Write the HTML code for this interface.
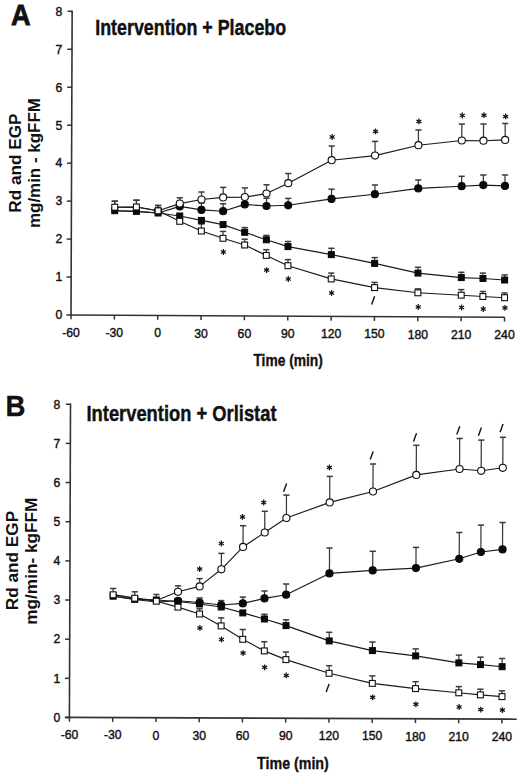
<!DOCTYPE html>
<html><head><meta charset="utf-8"><title>Rd and EGP</title>
<style>
html,body{margin:0;padding:0;background:#fff;}
body{width:520px;height:776px;overflow:hidden;}
svg{display:block;}
text{font-family:"Liberation Sans",sans-serif;fill:#111;}
.tk{font-size:12.2px;stroke:#111;stroke-width:0.4px;}
.big{font-size:29px;font-weight:bold;stroke:#111;stroke-width:0.8px;}
.ttl{font-size:22.7px;font-weight:bold;stroke:#111;stroke-width:0.45px;}
.tm{font-size:17.2px;font-weight:bold;stroke:#111;stroke-width:0.35px;}
.yl{font-size:17.2px;font-weight:bold;}
</style></head>
<body>
<svg width="520" height="776" viewBox="0 0 520 776">
<rect width="520" height="776" fill="#fff"/>
<line x1="72.15" y1="10.6" x2="71" y2="316" stroke="#333" stroke-width="1.6"/>
<line x1="70" y1="315" x2="504.6" y2="317.3" stroke="#333" stroke-width="1.6"/>
<line x1="66.4" y1="315" x2="71" y2="315" stroke="#333" stroke-width="1.5"/>
<text x="62.2" y="319.3" class="tk" text-anchor="end">0</text>
<line x1="66.54" y1="277.04" x2="71.14" y2="277.04" stroke="#333" stroke-width="1.5"/>
<text x="62.2" y="281.34" class="tk" text-anchor="end">1</text>
<line x1="66.68" y1="239.08" x2="71.28" y2="239.08" stroke="#333" stroke-width="1.5"/>
<text x="62.2" y="243.38" class="tk" text-anchor="end">2</text>
<line x1="66.82" y1="201.12" x2="71.42" y2="201.12" stroke="#333" stroke-width="1.5"/>
<text x="62.2" y="205.42" class="tk" text-anchor="end">3</text>
<line x1="66.96" y1="163.16" x2="71.56" y2="163.16" stroke="#333" stroke-width="1.5"/>
<text x="62.2" y="167.46" class="tk" text-anchor="end">4</text>
<line x1="67.1" y1="125.2" x2="71.7" y2="125.2" stroke="#333" stroke-width="1.5"/>
<text x="62.2" y="129.5" class="tk" text-anchor="end">5</text>
<line x1="67.24" y1="87.24" x2="71.84" y2="87.24" stroke="#333" stroke-width="1.5"/>
<text x="62.2" y="91.54" class="tk" text-anchor="end">6</text>
<line x1="67.38" y1="49.28" x2="71.98" y2="49.28" stroke="#333" stroke-width="1.5"/>
<text x="62.2" y="53.58" class="tk" text-anchor="end">7</text>
<line x1="67.52" y1="11.32" x2="72.12" y2="11.32" stroke="#333" stroke-width="1.5"/>
<text x="62.2" y="15.62" class="tk" text-anchor="end">8</text>
<line x1="71" y1="315.01" x2="71" y2="319.31" stroke="#333" stroke-width="1.5"/>
<text x="71" y="337" class="tk" text-anchor="middle">-60</text>
<line x1="114.35" y1="315.23" x2="114.35" y2="319.53" stroke="#333" stroke-width="1.5"/>
<text x="114.35" y="337.19" class="tk" text-anchor="middle">-30</text>
<line x1="157.7" y1="315.46" x2="157.7" y2="319.76" stroke="#333" stroke-width="1.5"/>
<text x="157.7" y="337.38" class="tk" text-anchor="middle">0</text>
<line x1="201.05" y1="315.69" x2="201.05" y2="319.99" stroke="#333" stroke-width="1.5"/>
<text x="201.05" y="337.57" class="tk" text-anchor="middle">30</text>
<line x1="244.4" y1="315.92" x2="244.4" y2="320.22" stroke="#333" stroke-width="1.5"/>
<text x="244.4" y="337.76" class="tk" text-anchor="middle">60</text>
<line x1="287.75" y1="316.15" x2="287.75" y2="320.45" stroke="#333" stroke-width="1.5"/>
<text x="287.75" y="337.95" class="tk" text-anchor="middle">90</text>
<line x1="331.1" y1="316.38" x2="331.1" y2="320.68" stroke="#333" stroke-width="1.5"/>
<text x="331.1" y="338.14" class="tk" text-anchor="middle">120</text>
<line x1="374.45" y1="316.61" x2="374.45" y2="320.91" stroke="#333" stroke-width="1.5"/>
<text x="374.45" y="338.33" class="tk" text-anchor="middle">150</text>
<line x1="417.8" y1="316.84" x2="417.8" y2="321.14" stroke="#333" stroke-width="1.5"/>
<text x="417.8" y="338.52" class="tk" text-anchor="middle">180</text>
<line x1="461.15" y1="317.07" x2="461.15" y2="321.37" stroke="#333" stroke-width="1.5"/>
<text x="461.15" y="338.71" class="tk" text-anchor="middle">210</text>
<line x1="504.5" y1="317.3" x2="504.5" y2="321.6" stroke="#333" stroke-width="1.5"/>
<text x="504.5" y="338.9" class="tk" text-anchor="middle">240</text>
<line x1="114.75" y1="207.2" x2="114.77" y2="201.2" stroke="#3a3a3a" stroke-width="1.25"/>
<line x1="111.67" y1="201.2" x2="117.87" y2="201.2" stroke="#3a3a3a" stroke-width="1.5"/>
<line x1="136.42" y1="207" x2="136.45" y2="200.2" stroke="#3a3a3a" stroke-width="1.25"/>
<line x1="133.35" y1="200.2" x2="139.55" y2="200.2" stroke="#3a3a3a" stroke-width="1.5"/>
<line x1="158.09" y1="210.8" x2="158.11" y2="205.5" stroke="#3a3a3a" stroke-width="1.25"/>
<line x1="155.01" y1="205.5" x2="161.21" y2="205.5" stroke="#3a3a3a" stroke-width="1.5"/>
<line x1="179.79" y1="203.6" x2="179.81" y2="197.8" stroke="#3a3a3a" stroke-width="1.25"/>
<line x1="176.71" y1="197.8" x2="182.91" y2="197.8" stroke="#3a3a3a" stroke-width="1.5"/>
<line x1="201.48" y1="199.5" x2="201.51" y2="192" stroke="#3a3a3a" stroke-width="1.25"/>
<line x1="198.41" y1="192" x2="204.61" y2="192" stroke="#3a3a3a" stroke-width="1.5"/>
<line x1="223.16" y1="197.4" x2="223.2" y2="187.4" stroke="#3a3a3a" stroke-width="1.25"/>
<line x1="220.1" y1="187.4" x2="226.3" y2="187.4" stroke="#3a3a3a" stroke-width="1.5"/>
<line x1="244.84" y1="197.1" x2="244.87" y2="187.9" stroke="#3a3a3a" stroke-width="1.25"/>
<line x1="241.77" y1="187.9" x2="247.97" y2="187.9" stroke="#3a3a3a" stroke-width="1.5"/>
<line x1="266.52" y1="193.6" x2="266.56" y2="184.8" stroke="#3a3a3a" stroke-width="1.25"/>
<line x1="263.46" y1="184.8" x2="269.66" y2="184.8" stroke="#3a3a3a" stroke-width="1.5"/>
<line x1="288.24" y1="183.2" x2="288.27" y2="173.5" stroke="#3a3a3a" stroke-width="1.25"/>
<line x1="285.17" y1="173.5" x2="291.37" y2="173.5" stroke="#3a3a3a" stroke-width="1.5"/>
<line x1="331.67" y1="160.2" x2="331.73" y2="146" stroke="#3a3a3a" stroke-width="1.25"/>
<line x1="328.63" y1="146" x2="334.83" y2="146" stroke="#3a3a3a" stroke-width="1.5"/>
<line x1="375.04" y1="155.6" x2="375.09" y2="141.4" stroke="#3a3a3a" stroke-width="1.25"/>
<line x1="371.99" y1="141.4" x2="378.19" y2="141.4" stroke="#3a3a3a" stroke-width="1.5"/>
<line x1="418.43" y1="145.2" x2="418.48" y2="130" stroke="#3a3a3a" stroke-width="1.25"/>
<line x1="415.38" y1="130" x2="421.58" y2="130" stroke="#3a3a3a" stroke-width="1.5"/>
<line x1="461.8" y1="140.5" x2="461.86" y2="124.1" stroke="#3a3a3a" stroke-width="1.25"/>
<line x1="458.76" y1="124.1" x2="464.96" y2="124.1" stroke="#3a3a3a" stroke-width="1.5"/>
<line x1="483.47" y1="140.7" x2="483.53" y2="124" stroke="#3a3a3a" stroke-width="1.25"/>
<line x1="480.43" y1="124" x2="486.63" y2="124" stroke="#3a3a3a" stroke-width="1.5"/>
<line x1="505.15" y1="139.9" x2="505.21" y2="123.5" stroke="#3a3a3a" stroke-width="1.25"/>
<line x1="502.11" y1="123.5" x2="508.31" y2="123.5" stroke="#3a3a3a" stroke-width="1.5"/>
<line x1="201.44" y1="209.9" x2="201.46" y2="203" stroke="#3a3a3a" stroke-width="1.25"/>
<line x1="198.36" y1="203" x2="204.56" y2="203" stroke="#3a3a3a" stroke-width="1.5"/>
<line x1="223.11" y1="211.2" x2="223.14" y2="203.8" stroke="#3a3a3a" stroke-width="1.25"/>
<line x1="220.04" y1="203.8" x2="226.24" y2="203.8" stroke="#3a3a3a" stroke-width="1.5"/>
<line x1="266.48" y1="206" x2="266.51" y2="198.2" stroke="#3a3a3a" stroke-width="1.25"/>
<line x1="263.41" y1="198.2" x2="269.61" y2="198.2" stroke="#3a3a3a" stroke-width="1.5"/>
<line x1="288.16" y1="205.3" x2="288.18" y2="198.4" stroke="#3a3a3a" stroke-width="1.25"/>
<line x1="285.08" y1="198.4" x2="291.28" y2="198.4" stroke="#3a3a3a" stroke-width="1.5"/>
<line x1="331.53" y1="198.9" x2="331.57" y2="189.2" stroke="#3a3a3a" stroke-width="1.25"/>
<line x1="328.47" y1="189.2" x2="334.67" y2="189.2" stroke="#3a3a3a" stroke-width="1.5"/>
<line x1="374.9" y1="194.2" x2="374.93" y2="185" stroke="#3a3a3a" stroke-width="1.25"/>
<line x1="371.83" y1="185" x2="378.03" y2="185" stroke="#3a3a3a" stroke-width="1.5"/>
<line x1="418.27" y1="188.4" x2="418.3" y2="180" stroke="#3a3a3a" stroke-width="1.25"/>
<line x1="415.2" y1="180" x2="421.4" y2="180" stroke="#3a3a3a" stroke-width="1.5"/>
<line x1="461.63" y1="186.2" x2="461.66" y2="176.3" stroke="#3a3a3a" stroke-width="1.25"/>
<line x1="458.56" y1="176.3" x2="464.76" y2="176.3" stroke="#3a3a3a" stroke-width="1.5"/>
<line x1="483.31" y1="185.1" x2="483.34" y2="175" stroke="#3a3a3a" stroke-width="1.25"/>
<line x1="480.24" y1="175" x2="486.44" y2="175" stroke="#3a3a3a" stroke-width="1.5"/>
<line x1="504.98" y1="185.9" x2="505.02" y2="175" stroke="#3a3a3a" stroke-width="1.25"/>
<line x1="501.92" y1="175" x2="508.12" y2="175" stroke="#3a3a3a" stroke-width="1.5"/>
<line x1="244.71" y1="232.3" x2="244.72" y2="227.6" stroke="#3a3a3a" stroke-width="1.25"/>
<line x1="241.62" y1="227.6" x2="247.82" y2="227.6" stroke="#3a3a3a" stroke-width="1.5"/>
<line x1="266.35" y1="239.8" x2="266.37" y2="235.4" stroke="#3a3a3a" stroke-width="1.25"/>
<line x1="263.27" y1="235.4" x2="269.47" y2="235.4" stroke="#3a3a3a" stroke-width="1.5"/>
<line x1="288" y1="246.6" x2="288.02" y2="241.5" stroke="#3a3a3a" stroke-width="1.25"/>
<line x1="284.92" y1="241.5" x2="291.12" y2="241.5" stroke="#3a3a3a" stroke-width="1.5"/>
<line x1="331.32" y1="254.6" x2="331.35" y2="248.3" stroke="#3a3a3a" stroke-width="1.25"/>
<line x1="328.25" y1="248.3" x2="334.45" y2="248.3" stroke="#3a3a3a" stroke-width="1.5"/>
<line x1="374.64" y1="263.4" x2="374.66" y2="257.6" stroke="#3a3a3a" stroke-width="1.25"/>
<line x1="371.56" y1="257.6" x2="377.76" y2="257.6" stroke="#3a3a3a" stroke-width="1.5"/>
<line x1="417.96" y1="273.1" x2="417.98" y2="267.3" stroke="#3a3a3a" stroke-width="1.25"/>
<line x1="414.88" y1="267.3" x2="421.08" y2="267.3" stroke="#3a3a3a" stroke-width="1.5"/>
<line x1="461.29" y1="277.6" x2="461.31" y2="272.3" stroke="#3a3a3a" stroke-width="1.25"/>
<line x1="458.21" y1="272.3" x2="464.41" y2="272.3" stroke="#3a3a3a" stroke-width="1.5"/>
<line x1="482.96" y1="278.5" x2="482.98" y2="273.1" stroke="#3a3a3a" stroke-width="1.25"/>
<line x1="479.88" y1="273.1" x2="486.08" y2="273.1" stroke="#3a3a3a" stroke-width="1.5"/>
<line x1="504.63" y1="280" x2="504.65" y2="274.9" stroke="#3a3a3a" stroke-width="1.25"/>
<line x1="501.55" y1="274.9" x2="507.75" y2="274.9" stroke="#3a3a3a" stroke-width="1.5"/>
<line x1="114.75" y1="207.2" x2="114.77" y2="201.2" stroke="#3a3a3a" stroke-width="1.25"/>
<line x1="111.67" y1="201.2" x2="117.87" y2="201.2" stroke="#3a3a3a" stroke-width="1.5"/>
<line x1="136.42" y1="207" x2="136.45" y2="200.2" stroke="#3a3a3a" stroke-width="1.25"/>
<line x1="133.35" y1="200.2" x2="139.55" y2="200.2" stroke="#3a3a3a" stroke-width="1.5"/>
<line x1="158.09" y1="210.8" x2="158.11" y2="205.5" stroke="#3a3a3a" stroke-width="1.25"/>
<line x1="155.01" y1="205.5" x2="161.21" y2="205.5" stroke="#3a3a3a" stroke-width="1.5"/>
<line x1="201.36" y1="231" x2="201.39" y2="224" stroke="#3a3a3a" stroke-width="1.25"/>
<line x1="198.29" y1="224" x2="204.49" y2="224" stroke="#3a3a3a" stroke-width="1.5"/>
<line x1="223.01" y1="238.3" x2="223.03" y2="231.4" stroke="#3a3a3a" stroke-width="1.25"/>
<line x1="219.93" y1="231.4" x2="226.13" y2="231.4" stroke="#3a3a3a" stroke-width="1.5"/>
<line x1="244.66" y1="245" x2="244.68" y2="239.2" stroke="#3a3a3a" stroke-width="1.25"/>
<line x1="241.58" y1="239.2" x2="247.78" y2="239.2" stroke="#3a3a3a" stroke-width="1.5"/>
<line x1="266.3" y1="255.4" x2="266.32" y2="249.7" stroke="#3a3a3a" stroke-width="1.25"/>
<line x1="263.22" y1="249.7" x2="269.42" y2="249.7" stroke="#3a3a3a" stroke-width="1.5"/>
<line x1="287.93" y1="265.7" x2="287.95" y2="259.6" stroke="#3a3a3a" stroke-width="1.25"/>
<line x1="284.85" y1="259.6" x2="291.05" y2="259.6" stroke="#3a3a3a" stroke-width="1.5"/>
<line x1="331.23" y1="278.9" x2="331.26" y2="273.1" stroke="#3a3a3a" stroke-width="1.25"/>
<line x1="328.16" y1="273.1" x2="334.36" y2="273.1" stroke="#3a3a3a" stroke-width="1.5"/>
<line x1="374.55" y1="287.6" x2="374.57" y2="282.4" stroke="#3a3a3a" stroke-width="1.25"/>
<line x1="371.47" y1="282.4" x2="377.67" y2="282.4" stroke="#3a3a3a" stroke-width="1.5"/>
<line x1="417.88" y1="292.8" x2="417.9" y2="288.9" stroke="#3a3a3a" stroke-width="1.25"/>
<line x1="414.8" y1="288.9" x2="421" y2="288.9" stroke="#3a3a3a" stroke-width="1.5"/>
<line x1="461.22" y1="295.2" x2="461.24" y2="289.6" stroke="#3a3a3a" stroke-width="1.25"/>
<line x1="458.14" y1="289.6" x2="464.34" y2="289.6" stroke="#3a3a3a" stroke-width="1.5"/>
<line x1="482.89" y1="296.5" x2="482.91" y2="291.5" stroke="#3a3a3a" stroke-width="1.25"/>
<line x1="479.81" y1="291.5" x2="486.01" y2="291.5" stroke="#3a3a3a" stroke-width="1.5"/>
<line x1="504.56" y1="297.7" x2="504.58" y2="293" stroke="#3a3a3a" stroke-width="1.25"/>
<line x1="501.48" y1="293" x2="507.68" y2="293" stroke="#3a3a3a" stroke-width="1.5"/>
<path d="M114.74,210.7 L136.41,211.4 L158.08,213 L179.74,216 L201.4,220.4 L223.06,224.6 L244.71,232.3 L266.35,239.8 L288,246.6 L331.32,254.6 L374.64,263.4 L417.96,273.1 L461.29,277.6 L482.96,278.5 L504.63,280" fill="none" stroke="#1a1a1a" stroke-width="1.15" stroke-linejoin="round"/>
<path d="M114.75,207.2 L136.42,207 L158.09,210.8 L179.72,221.3 L201.36,231 L223.01,238.3 L244.66,245 L266.3,255.4 L287.93,265.7 L331.23,278.9 L374.55,287.6 L417.88,292.8 L461.22,295.2 L482.89,296.5 L504.56,297.7" fill="none" stroke="#1a1a1a" stroke-width="1.15" stroke-linejoin="round"/>
<path d="M114.74,210.7 L136.41,211.4 L158.08,213 L179.78,206.4 L201.44,209.9 L223.11,211.2 L244.81,204.4 L266.48,206 L288.16,205.3 L331.53,198.9 L374.9,194.2 L418.27,188.4 L461.63,186.2 L483.31,185.1 L504.98,185.9" fill="none" stroke="#1a1a1a" stroke-width="1.15" stroke-linejoin="round"/>
<path d="M114.75,207.2 L136.42,207 L158.09,210.8 L179.79,203.6 L201.48,199.5 L223.16,197.4 L244.84,197.1 L266.52,193.6 L288.24,183.2 L331.67,160.2 L375.04,155.6 L418.43,145.2 L461.8,140.5 L483.47,140.7 L505.15,139.9" fill="none" stroke="#1a1a1a" stroke-width="1.15" stroke-linejoin="round"/>
<circle cx="179.78" cy="206.4" r="3.55" fill="#0a0a0a" stroke="#0a0a0a" stroke-width="1.1"/>
<circle cx="201.44" cy="209.9" r="3.55" fill="#0a0a0a" stroke="#0a0a0a" stroke-width="1.1"/>
<circle cx="223.11" cy="211.2" r="3.55" fill="#0a0a0a" stroke="#0a0a0a" stroke-width="1.1"/>
<circle cx="244.81" cy="204.4" r="3.55" fill="#0a0a0a" stroke="#0a0a0a" stroke-width="1.1"/>
<circle cx="266.48" cy="206" r="3.55" fill="#0a0a0a" stroke="#0a0a0a" stroke-width="1.1"/>
<circle cx="288.16" cy="205.3" r="3.55" fill="#0a0a0a" stroke="#0a0a0a" stroke-width="1.1"/>
<circle cx="331.53" cy="198.9" r="3.55" fill="#0a0a0a" stroke="#0a0a0a" stroke-width="1.1"/>
<circle cx="374.9" cy="194.2" r="3.55" fill="#0a0a0a" stroke="#0a0a0a" stroke-width="1.1"/>
<circle cx="418.27" cy="188.4" r="3.55" fill="#0a0a0a" stroke="#0a0a0a" stroke-width="1.1"/>
<circle cx="461.63" cy="186.2" r="3.55" fill="#0a0a0a" stroke="#0a0a0a" stroke-width="1.1"/>
<circle cx="483.31" cy="185.1" r="3.55" fill="#0a0a0a" stroke="#0a0a0a" stroke-width="1.1"/>
<circle cx="504.98" cy="185.9" r="3.55" fill="#0a0a0a" stroke="#0a0a0a" stroke-width="1.1"/>
<circle cx="158.09" cy="210.8" r="3.55" fill="#fff" stroke="#111" stroke-width="1.1"/>
<circle cx="179.79" cy="203.6" r="3.55" fill="#fff" stroke="#111" stroke-width="1.1"/>
<circle cx="201.48" cy="199.5" r="3.55" fill="#fff" stroke="#111" stroke-width="1.1"/>
<circle cx="223.16" cy="197.4" r="3.55" fill="#fff" stroke="#111" stroke-width="1.1"/>
<circle cx="244.84" cy="197.1" r="3.55" fill="#fff" stroke="#111" stroke-width="1.1"/>
<circle cx="266.52" cy="193.6" r="3.55" fill="#fff" stroke="#111" stroke-width="1.1"/>
<circle cx="288.24" cy="183.2" r="3.55" fill="#fff" stroke="#111" stroke-width="1.1"/>
<circle cx="331.67" cy="160.2" r="3.55" fill="#fff" stroke="#111" stroke-width="1.1"/>
<circle cx="375.04" cy="155.6" r="3.55" fill="#fff" stroke="#111" stroke-width="1.1"/>
<circle cx="418.43" cy="145.2" r="3.55" fill="#fff" stroke="#111" stroke-width="1.1"/>
<circle cx="461.8" cy="140.5" r="3.55" fill="#fff" stroke="#111" stroke-width="1.1"/>
<circle cx="483.47" cy="140.7" r="3.55" fill="#fff" stroke="#111" stroke-width="1.1"/>
<circle cx="505.15" cy="139.9" r="3.55" fill="#fff" stroke="#111" stroke-width="1.1"/>
<rect x="111.79" y="207.75" width="5.9" height="5.9" fill="#0a0a0a" stroke="#0a0a0a" stroke-width="1.1"/>
<rect x="133.46" y="208.45" width="5.9" height="5.9" fill="#0a0a0a" stroke="#0a0a0a" stroke-width="1.1"/>
<rect x="155.13" y="210.05" width="5.9" height="5.9" fill="#0a0a0a" stroke="#0a0a0a" stroke-width="1.1"/>
<rect x="176.79" y="213.05" width="5.9" height="5.9" fill="#0a0a0a" stroke="#0a0a0a" stroke-width="1.1"/>
<rect x="198.45" y="217.45" width="5.9" height="5.9" fill="#0a0a0a" stroke="#0a0a0a" stroke-width="1.1"/>
<rect x="220.11" y="221.65" width="5.9" height="5.9" fill="#0a0a0a" stroke="#0a0a0a" stroke-width="1.1"/>
<rect x="241.76" y="229.35" width="5.9" height="5.9" fill="#0a0a0a" stroke="#0a0a0a" stroke-width="1.1"/>
<rect x="263.4" y="236.85" width="5.9" height="5.9" fill="#0a0a0a" stroke="#0a0a0a" stroke-width="1.1"/>
<rect x="285.05" y="243.65" width="5.9" height="5.9" fill="#0a0a0a" stroke="#0a0a0a" stroke-width="1.1"/>
<rect x="328.37" y="251.65" width="5.9" height="5.9" fill="#0a0a0a" stroke="#0a0a0a" stroke-width="1.1"/>
<rect x="371.69" y="260.45" width="5.9" height="5.9" fill="#0a0a0a" stroke="#0a0a0a" stroke-width="1.1"/>
<rect x="415.01" y="270.15" width="5.9" height="5.9" fill="#0a0a0a" stroke="#0a0a0a" stroke-width="1.1"/>
<rect x="458.34" y="274.65" width="5.9" height="5.9" fill="#0a0a0a" stroke="#0a0a0a" stroke-width="1.1"/>
<rect x="480.01" y="275.55" width="5.9" height="5.9" fill="#0a0a0a" stroke="#0a0a0a" stroke-width="1.1"/>
<rect x="501.68" y="277.05" width="5.9" height="5.9" fill="#0a0a0a" stroke="#0a0a0a" stroke-width="1.1"/>
<rect x="111.8" y="204.25" width="5.9" height="5.9" fill="#fff" stroke="#111" stroke-width="1.1"/>
<rect x="133.47" y="204.05" width="5.9" height="5.9" fill="#fff" stroke="#111" stroke-width="1.1"/>
<rect x="155.14" y="207.85" width="5.9" height="5.9" fill="#fff" stroke="#111" stroke-width="1.1"/>
<rect x="176.77" y="218.35" width="5.9" height="5.9" fill="#fff" stroke="#111" stroke-width="1.1"/>
<rect x="198.41" y="228.05" width="5.9" height="5.9" fill="#fff" stroke="#111" stroke-width="1.1"/>
<rect x="220.06" y="235.35" width="5.9" height="5.9" fill="#fff" stroke="#111" stroke-width="1.1"/>
<rect x="241.71" y="242.05" width="5.9" height="5.9" fill="#fff" stroke="#111" stroke-width="1.1"/>
<rect x="263.35" y="252.45" width="5.9" height="5.9" fill="#fff" stroke="#111" stroke-width="1.1"/>
<rect x="284.98" y="262.75" width="5.9" height="5.9" fill="#fff" stroke="#111" stroke-width="1.1"/>
<rect x="328.28" y="275.95" width="5.9" height="5.9" fill="#fff" stroke="#111" stroke-width="1.1"/>
<rect x="371.6" y="284.65" width="5.9" height="5.9" fill="#fff" stroke="#111" stroke-width="1.1"/>
<rect x="414.93" y="289.85" width="5.9" height="5.9" fill="#fff" stroke="#111" stroke-width="1.1"/>
<rect x="458.27" y="292.25" width="5.9" height="5.9" fill="#fff" stroke="#111" stroke-width="1.1"/>
<rect x="479.94" y="293.55" width="5.9" height="5.9" fill="#fff" stroke="#111" stroke-width="1.1"/>
<rect x="501.61" y="294.75" width="5.9" height="5.9" fill="#fff" stroke="#111" stroke-width="1.1"/>
<line x1="332.16" y1="134.1" x2="332.16" y2="139.9" stroke="#111" stroke-width="1.25"/>
<line x1="329.65" y1="135.55" x2="334.67" y2="138.45" stroke="#111" stroke-width="1.25"/>
<line x1="329.65" y1="138.45" x2="334.67" y2="135.55" stroke="#111" stroke-width="1.25"/>
<line x1="375.53" y1="128.5" x2="375.53" y2="134.3" stroke="#111" stroke-width="1.25"/>
<line x1="373.02" y1="129.95" x2="378.04" y2="132.85" stroke="#111" stroke-width="1.25"/>
<line x1="373.02" y1="132.85" x2="378.04" y2="129.95" stroke="#111" stroke-width="1.25"/>
<line x1="418.92" y1="118.5" x2="418.92" y2="124.3" stroke="#111" stroke-width="1.25"/>
<line x1="416.4" y1="119.95" x2="421.43" y2="122.85" stroke="#111" stroke-width="1.25"/>
<line x1="416.4" y1="122.85" x2="421.43" y2="119.95" stroke="#111" stroke-width="1.25"/>
<line x1="462.29" y1="112.6" x2="462.29" y2="118.4" stroke="#111" stroke-width="1.25"/>
<line x1="459.78" y1="114.05" x2="464.8" y2="116.95" stroke="#111" stroke-width="1.25"/>
<line x1="459.78" y1="116.95" x2="464.8" y2="114.05" stroke="#111" stroke-width="1.25"/>
<line x1="483.96" y1="112.3" x2="483.96" y2="118.1" stroke="#111" stroke-width="1.25"/>
<line x1="481.45" y1="113.75" x2="486.48" y2="116.65" stroke="#111" stroke-width="1.25"/>
<line x1="481.45" y1="116.65" x2="486.48" y2="113.75" stroke="#111" stroke-width="1.25"/>
<line x1="505.63" y1="113.5" x2="505.63" y2="119.3" stroke="#111" stroke-width="1.25"/>
<line x1="503.12" y1="114.95" x2="508.15" y2="117.85" stroke="#111" stroke-width="1.25"/>
<line x1="503.12" y1="117.85" x2="508.15" y2="114.95" stroke="#111" stroke-width="1.25"/>
<line x1="223.36" y1="249.1" x2="223.36" y2="254.9" stroke="#111" stroke-width="1.25"/>
<line x1="220.85" y1="250.55" x2="225.87" y2="253.45" stroke="#111" stroke-width="1.25"/>
<line x1="220.85" y1="253.45" x2="225.87" y2="250.55" stroke="#111" stroke-width="1.25"/>
<line x1="266.64" y1="267.2" x2="266.64" y2="273" stroke="#111" stroke-width="1.25"/>
<line x1="264.13" y1="268.65" x2="269.15" y2="271.55" stroke="#111" stroke-width="1.25"/>
<line x1="264.13" y1="271.55" x2="269.15" y2="268.65" stroke="#111" stroke-width="1.25"/>
<line x1="288.28" y1="276.1" x2="288.28" y2="281.9" stroke="#111" stroke-width="1.25"/>
<line x1="285.77" y1="277.55" x2="290.79" y2="280.45" stroke="#111" stroke-width="1.25"/>
<line x1="285.77" y1="280.45" x2="290.79" y2="277.55" stroke="#111" stroke-width="1.25"/>
<line x1="331.58" y1="290.1" x2="331.58" y2="295.9" stroke="#111" stroke-width="1.25"/>
<line x1="329.07" y1="291.55" x2="334.09" y2="294.45" stroke="#111" stroke-width="1.25"/>
<line x1="329.07" y1="294.45" x2="334.09" y2="291.55" stroke="#111" stroke-width="1.25"/>
<line x1="371.6" y1="304.5" x2="374.6" y2="296.3" stroke="#111" stroke-width="1.4"/>
<line x1="418.23" y1="304.1" x2="418.23" y2="309.9" stroke="#111" stroke-width="1.25"/>
<line x1="415.72" y1="305.55" x2="420.74" y2="308.45" stroke="#111" stroke-width="1.25"/>
<line x1="415.72" y1="308.45" x2="420.74" y2="305.55" stroke="#111" stroke-width="1.25"/>
<line x1="461.58" y1="304.6" x2="461.58" y2="310.4" stroke="#111" stroke-width="1.25"/>
<line x1="459.07" y1="306.05" x2="464.09" y2="308.95" stroke="#111" stroke-width="1.25"/>
<line x1="459.07" y1="308.95" x2="464.09" y2="306.05" stroke="#111" stroke-width="1.25"/>
<line x1="483.25" y1="306.1" x2="483.25" y2="311.9" stroke="#111" stroke-width="1.25"/>
<line x1="480.74" y1="307.55" x2="485.76" y2="310.45" stroke="#111" stroke-width="1.25"/>
<line x1="480.74" y1="310.45" x2="485.76" y2="307.55" stroke="#111" stroke-width="1.25"/>
<line x1="504.93" y1="304.9" x2="504.93" y2="310.7" stroke="#111" stroke-width="1.25"/>
<line x1="502.42" y1="306.35" x2="507.44" y2="309.25" stroke="#111" stroke-width="1.25"/>
<line x1="502.42" y1="309.25" x2="507.44" y2="306.35" stroke="#111" stroke-width="1.25"/>
<line x1="70.5" y1="403.4" x2="69.4" y2="718.5" stroke="#333" stroke-width="1.6"/>
<line x1="65" y1="717.4" x2="516.8" y2="719.2" stroke="#333" stroke-width="1.6"/>
<line x1="64.8" y1="717.5" x2="69.4" y2="717.5" stroke="#333" stroke-width="1.5"/>
<text x="60.3" y="721.8" class="tk" text-anchor="end">0</text>
<line x1="64.94" y1="678.34" x2="69.54" y2="678.34" stroke="#333" stroke-width="1.5"/>
<text x="60.3" y="682.64" class="tk" text-anchor="end">1</text>
<line x1="65.07" y1="639.18" x2="69.67" y2="639.18" stroke="#333" stroke-width="1.5"/>
<text x="60.3" y="643.48" class="tk" text-anchor="end">2</text>
<line x1="65.21" y1="600.02" x2="69.81" y2="600.02" stroke="#333" stroke-width="1.5"/>
<text x="60.3" y="604.32" class="tk" text-anchor="end">3</text>
<line x1="65.35" y1="560.86" x2="69.95" y2="560.86" stroke="#333" stroke-width="1.5"/>
<text x="60.3" y="565.16" class="tk" text-anchor="end">4</text>
<line x1="65.49" y1="521.7" x2="70.09" y2="521.7" stroke="#333" stroke-width="1.5"/>
<text x="60.3" y="526" class="tk" text-anchor="end">5</text>
<line x1="65.62" y1="482.54" x2="70.22" y2="482.54" stroke="#333" stroke-width="1.5"/>
<text x="60.3" y="486.84" class="tk" text-anchor="end">6</text>
<line x1="65.76" y1="443.38" x2="70.36" y2="443.38" stroke="#333" stroke-width="1.5"/>
<text x="60.3" y="447.68" class="tk" text-anchor="end">7</text>
<line x1="65.9" y1="404.22" x2="70.5" y2="404.22" stroke="#333" stroke-width="1.5"/>
<text x="60.3" y="408.52" class="tk" text-anchor="end">8</text>
<line x1="69.44" y1="717.42" x2="69.44" y2="721.72" stroke="#333" stroke-width="1.5"/>
<text x="69.44" y="739.3" class="tk" text-anchor="middle">-60</text>
<line x1="112.69" y1="717.59" x2="112.69" y2="721.89" stroke="#333" stroke-width="1.5"/>
<text x="112.69" y="739.46" class="tk" text-anchor="middle">-30</text>
<line x1="155.94" y1="717.76" x2="155.94" y2="722.06" stroke="#333" stroke-width="1.5"/>
<text x="155.94" y="739.62" class="tk" text-anchor="middle">0</text>
<line x1="199.19" y1="717.93" x2="199.19" y2="722.23" stroke="#333" stroke-width="1.5"/>
<text x="199.19" y="739.78" class="tk" text-anchor="middle">30</text>
<line x1="242.44" y1="718.11" x2="242.44" y2="722.41" stroke="#333" stroke-width="1.5"/>
<text x="242.44" y="739.94" class="tk" text-anchor="middle">60</text>
<line x1="285.69" y1="718.28" x2="285.69" y2="722.58" stroke="#333" stroke-width="1.5"/>
<text x="285.69" y="740.1" class="tk" text-anchor="middle">90</text>
<line x1="328.94" y1="718.45" x2="328.94" y2="722.75" stroke="#333" stroke-width="1.5"/>
<text x="328.94" y="740.26" class="tk" text-anchor="middle">120</text>
<line x1="372.19" y1="718.62" x2="372.19" y2="722.92" stroke="#333" stroke-width="1.5"/>
<text x="372.19" y="740.42" class="tk" text-anchor="middle">150</text>
<line x1="415.44" y1="718.8" x2="415.44" y2="723.1" stroke="#333" stroke-width="1.5"/>
<text x="415.44" y="740.58" class="tk" text-anchor="middle">180</text>
<line x1="458.69" y1="718.97" x2="458.69" y2="723.27" stroke="#333" stroke-width="1.5"/>
<text x="458.69" y="740.74" class="tk" text-anchor="middle">210</text>
<line x1="501.94" y1="719.14" x2="501.94" y2="723.44" stroke="#333" stroke-width="1.5"/>
<text x="501.94" y="740.9" class="tk" text-anchor="middle">240</text>
<line x1="113.12" y1="594.5" x2="113.14" y2="588.5" stroke="#3a3a3a" stroke-width="1.25"/>
<line x1="110.04" y1="588.5" x2="116.24" y2="588.5" stroke="#3a3a3a" stroke-width="1.5"/>
<line x1="134.73" y1="598" x2="134.75" y2="591.8" stroke="#3a3a3a" stroke-width="1.25"/>
<line x1="131.65" y1="591.8" x2="137.85" y2="591.8" stroke="#3a3a3a" stroke-width="1.5"/>
<line x1="156.35" y1="600.5" x2="156.37" y2="594.5" stroke="#3a3a3a" stroke-width="1.25"/>
<line x1="153.27" y1="594.5" x2="159.47" y2="594.5" stroke="#3a3a3a" stroke-width="1.5"/>
<line x1="178" y1="591.8" x2="178.03" y2="585.8" stroke="#3a3a3a" stroke-width="1.25"/>
<line x1="174.93" y1="585.8" x2="181.13" y2="585.8" stroke="#3a3a3a" stroke-width="1.5"/>
<line x1="199.65" y1="586.4" x2="199.68" y2="578.6" stroke="#3a3a3a" stroke-width="1.25"/>
<line x1="196.58" y1="578.6" x2="202.78" y2="578.6" stroke="#3a3a3a" stroke-width="1.5"/>
<line x1="221.33" y1="569.3" x2="221.39" y2="553.4" stroke="#3a3a3a" stroke-width="1.25"/>
<line x1="218.29" y1="553.4" x2="224.49" y2="553.4" stroke="#3a3a3a" stroke-width="1.5"/>
<line x1="243.04" y1="546.9" x2="243.11" y2="525.7" stroke="#3a3a3a" stroke-width="1.25"/>
<line x1="240.01" y1="525.7" x2="246.21" y2="525.7" stroke="#3a3a3a" stroke-width="1.5"/>
<line x1="264.71" y1="532.5" x2="264.79" y2="511.3" stroke="#3a3a3a" stroke-width="1.25"/>
<line x1="261.69" y1="511.3" x2="267.89" y2="511.3" stroke="#3a3a3a" stroke-width="1.5"/>
<line x1="286.39" y1="518" x2="286.47" y2="495.1" stroke="#3a3a3a" stroke-width="1.25"/>
<line x1="283.37" y1="495.1" x2="289.57" y2="495.1" stroke="#3a3a3a" stroke-width="1.5"/>
<line x1="329.69" y1="502.4" x2="329.78" y2="476.4" stroke="#3a3a3a" stroke-width="1.25"/>
<line x1="326.68" y1="476.4" x2="332.88" y2="476.4" stroke="#3a3a3a" stroke-width="1.5"/>
<line x1="372.98" y1="491.5" x2="373.08" y2="464" stroke="#3a3a3a" stroke-width="1.25"/>
<line x1="369.98" y1="464" x2="376.18" y2="464" stroke="#3a3a3a" stroke-width="1.5"/>
<line x1="416.29" y1="474.9" x2="416.39" y2="445.3" stroke="#3a3a3a" stroke-width="1.25"/>
<line x1="413.29" y1="445.3" x2="419.49" y2="445.3" stroke="#3a3a3a" stroke-width="1.5"/>
<line x1="459.56" y1="469" x2="459.67" y2="438.5" stroke="#3a3a3a" stroke-width="1.25"/>
<line x1="456.57" y1="438.5" x2="462.77" y2="438.5" stroke="#3a3a3a" stroke-width="1.5"/>
<line x1="481.18" y1="470.8" x2="481.29" y2="440.1" stroke="#3a3a3a" stroke-width="1.25"/>
<line x1="478.19" y1="440.1" x2="484.39" y2="440.1" stroke="#3a3a3a" stroke-width="1.5"/>
<line x1="502.81" y1="467.8" x2="502.92" y2="437.3" stroke="#3a3a3a" stroke-width="1.25"/>
<line x1="499.82" y1="437.3" x2="506.02" y2="437.3" stroke="#3a3a3a" stroke-width="1.5"/>
<line x1="199.59" y1="602.5" x2="199.61" y2="598" stroke="#3a3a3a" stroke-width="1.25"/>
<line x1="196.51" y1="598" x2="202.71" y2="598" stroke="#3a3a3a" stroke-width="1.5"/>
<line x1="221.21" y1="605" x2="221.22" y2="600.6" stroke="#3a3a3a" stroke-width="1.25"/>
<line x1="218.12" y1="600.6" x2="224.32" y2="600.6" stroke="#3a3a3a" stroke-width="1.5"/>
<line x1="242.84" y1="603.4" x2="242.86" y2="597.1" stroke="#3a3a3a" stroke-width="1.25"/>
<line x1="239.76" y1="597.1" x2="245.96" y2="597.1" stroke="#3a3a3a" stroke-width="1.5"/>
<line x1="264.48" y1="598.4" x2="264.51" y2="591" stroke="#3a3a3a" stroke-width="1.25"/>
<line x1="261.41" y1="591" x2="267.61" y2="591" stroke="#3a3a3a" stroke-width="1.5"/>
<line x1="286.12" y1="594.7" x2="286.16" y2="584" stroke="#3a3a3a" stroke-width="1.25"/>
<line x1="283.06" y1="584" x2="289.26" y2="584" stroke="#3a3a3a" stroke-width="1.5"/>
<line x1="329.44" y1="573.4" x2="329.53" y2="548" stroke="#3a3a3a" stroke-width="1.25"/>
<line x1="326.43" y1="548" x2="332.63" y2="548" stroke="#3a3a3a" stroke-width="1.5"/>
<line x1="372.7" y1="570.4" x2="372.77" y2="551.3" stroke="#3a3a3a" stroke-width="1.25"/>
<line x1="369.67" y1="551.3" x2="375.87" y2="551.3" stroke="#3a3a3a" stroke-width="1.5"/>
<line x1="415.96" y1="568.1" x2="416.04" y2="547.4" stroke="#3a3a3a" stroke-width="1.25"/>
<line x1="412.94" y1="547.4" x2="419.14" y2="547.4" stroke="#3a3a3a" stroke-width="1.5"/>
<line x1="459.25" y1="558.8" x2="459.34" y2="532.5" stroke="#3a3a3a" stroke-width="1.25"/>
<line x1="456.24" y1="532.5" x2="462.44" y2="532.5" stroke="#3a3a3a" stroke-width="1.5"/>
<line x1="480.89" y1="552" x2="480.99" y2="525.1" stroke="#3a3a3a" stroke-width="1.25"/>
<line x1="477.89" y1="525.1" x2="484.09" y2="525.1" stroke="#3a3a3a" stroke-width="1.5"/>
<line x1="502.53" y1="549.4" x2="502.62" y2="522.5" stroke="#3a3a3a" stroke-width="1.25"/>
<line x1="499.52" y1="522.5" x2="505.72" y2="522.5" stroke="#3a3a3a" stroke-width="1.5"/>
<line x1="264.41" y1="619" x2="264.43" y2="614.3" stroke="#3a3a3a" stroke-width="1.25"/>
<line x1="261.33" y1="614.3" x2="267.53" y2="614.3" stroke="#3a3a3a" stroke-width="1.5"/>
<line x1="286.01" y1="625.6" x2="286.03" y2="619.8" stroke="#3a3a3a" stroke-width="1.25"/>
<line x1="282.93" y1="619.8" x2="289.13" y2="619.8" stroke="#3a3a3a" stroke-width="1.5"/>
<line x1="329.21" y1="640.9" x2="329.24" y2="632.3" stroke="#3a3a3a" stroke-width="1.25"/>
<line x1="326.14" y1="632.3" x2="332.34" y2="632.3" stroke="#3a3a3a" stroke-width="1.5"/>
<line x1="372.42" y1="650.6" x2="372.45" y2="642" stroke="#3a3a3a" stroke-width="1.25"/>
<line x1="369.35" y1="642" x2="375.55" y2="642" stroke="#3a3a3a" stroke-width="1.5"/>
<line x1="415.66" y1="655.9" x2="415.68" y2="648.9" stroke="#3a3a3a" stroke-width="1.25"/>
<line x1="412.58" y1="648.9" x2="418.78" y2="648.9" stroke="#3a3a3a" stroke-width="1.5"/>
<line x1="458.88" y1="662.9" x2="458.91" y2="655.1" stroke="#3a3a3a" stroke-width="1.25"/>
<line x1="455.81" y1="655.1" x2="462.01" y2="655.1" stroke="#3a3a3a" stroke-width="1.5"/>
<line x1="480.5" y1="664.6" x2="480.53" y2="657.2" stroke="#3a3a3a" stroke-width="1.25"/>
<line x1="477.43" y1="657.2" x2="483.63" y2="657.2" stroke="#3a3a3a" stroke-width="1.5"/>
<line x1="502.12" y1="666.7" x2="502.15" y2="658.5" stroke="#3a3a3a" stroke-width="1.25"/>
<line x1="499.05" y1="658.5" x2="505.25" y2="658.5" stroke="#3a3a3a" stroke-width="1.5"/>
<line x1="199.55" y1="614" x2="199.57" y2="608.8" stroke="#3a3a3a" stroke-width="1.25"/>
<line x1="196.47" y1="608.8" x2="202.67" y2="608.8" stroke="#3a3a3a" stroke-width="1.5"/>
<line x1="221.14" y1="625.9" x2="221.16" y2="617.9" stroke="#3a3a3a" stroke-width="1.25"/>
<line x1="218.06" y1="617.9" x2="224.26" y2="617.9" stroke="#3a3a3a" stroke-width="1.5"/>
<line x1="242.71" y1="639.3" x2="242.75" y2="629.5" stroke="#3a3a3a" stroke-width="1.25"/>
<line x1="239.65" y1="629.5" x2="245.85" y2="629.5" stroke="#3a3a3a" stroke-width="1.5"/>
<line x1="264.3" y1="650.9" x2="264.33" y2="641.7" stroke="#3a3a3a" stroke-width="1.25"/>
<line x1="261.23" y1="641.7" x2="267.43" y2="641.7" stroke="#3a3a3a" stroke-width="1.5"/>
<line x1="285.89" y1="659.6" x2="285.92" y2="652" stroke="#3a3a3a" stroke-width="1.25"/>
<line x1="282.82" y1="652" x2="289.02" y2="652" stroke="#3a3a3a" stroke-width="1.5"/>
<line x1="329.09" y1="673.3" x2="329.12" y2="665.7" stroke="#3a3a3a" stroke-width="1.25"/>
<line x1="326.02" y1="665.7" x2="332.22" y2="665.7" stroke="#3a3a3a" stroke-width="1.5"/>
<line x1="372.31" y1="683.4" x2="372.34" y2="675.9" stroke="#3a3a3a" stroke-width="1.25"/>
<line x1="369.24" y1="675.9" x2="375.44" y2="675.9" stroke="#3a3a3a" stroke-width="1.5"/>
<line x1="415.54" y1="688.6" x2="415.57" y2="681.7" stroke="#3a3a3a" stroke-width="1.25"/>
<line x1="412.47" y1="681.7" x2="418.67" y2="681.7" stroke="#3a3a3a" stroke-width="1.5"/>
<line x1="458.78" y1="692.8" x2="458.8" y2="686.6" stroke="#3a3a3a" stroke-width="1.25"/>
<line x1="455.7" y1="686.6" x2="461.9" y2="686.6" stroke="#3a3a3a" stroke-width="1.5"/>
<line x1="480.39" y1="694.9" x2="480.41" y2="689.2" stroke="#3a3a3a" stroke-width="1.25"/>
<line x1="477.31" y1="689.2" x2="483.51" y2="689.2" stroke="#3a3a3a" stroke-width="1.5"/>
<line x1="502.01" y1="696.6" x2="502.03" y2="690.9" stroke="#3a3a3a" stroke-width="1.25"/>
<line x1="498.93" y1="690.9" x2="505.13" y2="690.9" stroke="#3a3a3a" stroke-width="1.5"/>
<path d="M113.11,596.2 L134.73,599.4 L156.35,600 L177.97,601.5 L199.59,604 L221.2,607 L242.81,612.9 L264.41,619 L286.01,625.6 L329.21,640.9 L372.42,650.6 L415.66,655.9 L458.88,662.9 L480.5,664.6 L502.12,666.7" fill="none" stroke="#1a1a1a" stroke-width="1.15" stroke-linejoin="round"/>
<path d="M113.12,594.8 L134.73,598.2 L156.35,601.2 L177.95,607.1 L199.55,614 L221.14,625.9 L242.71,639.3 L264.3,650.9 L285.89,659.6 L329.09,673.3 L372.31,683.4 L415.54,688.6 L458.78,692.8 L480.39,694.9 L502.01,696.6" fill="none" stroke="#1a1a1a" stroke-width="1.15" stroke-linejoin="round"/>
<path d="M113.12,596 L134.73,599.5 L156.34,602 L177.97,600.8 L199.59,602.5 L221.21,605 L242.84,603.4 L264.48,598.4 L286.12,594.7 L329.44,573.4 L372.7,570.4 L415.96,568.1 L459.25,558.8 L480.89,552 L502.53,549.4" fill="none" stroke="#1a1a1a" stroke-width="1.15" stroke-linejoin="round"/>
<path d="M113.12,594.5 L134.73,598 L156.35,600.5 L178,591.8 L199.65,586.4 L221.33,569.3 L243.04,546.9 L264.71,532.5 L286.39,518 L329.69,502.4 L372.98,491.5 L416.29,474.9 L459.56,469 L481.18,470.8 L502.81,467.8" fill="none" stroke="#1a1a1a" stroke-width="1.15" stroke-linejoin="round"/>
<circle cx="177.97" cy="600.8" r="3.55" fill="#0a0a0a" stroke="#0a0a0a" stroke-width="1.1"/>
<circle cx="199.59" cy="602.5" r="3.55" fill="#0a0a0a" stroke="#0a0a0a" stroke-width="1.1"/>
<circle cx="221.21" cy="605" r="3.55" fill="#0a0a0a" stroke="#0a0a0a" stroke-width="1.1"/>
<circle cx="242.84" cy="603.4" r="3.55" fill="#0a0a0a" stroke="#0a0a0a" stroke-width="1.1"/>
<circle cx="264.48" cy="598.4" r="3.55" fill="#0a0a0a" stroke="#0a0a0a" stroke-width="1.1"/>
<circle cx="286.12" cy="594.7" r="3.55" fill="#0a0a0a" stroke="#0a0a0a" stroke-width="1.1"/>
<circle cx="329.44" cy="573.4" r="3.55" fill="#0a0a0a" stroke="#0a0a0a" stroke-width="1.1"/>
<circle cx="372.7" cy="570.4" r="3.55" fill="#0a0a0a" stroke="#0a0a0a" stroke-width="1.1"/>
<circle cx="415.96" cy="568.1" r="3.55" fill="#0a0a0a" stroke="#0a0a0a" stroke-width="1.1"/>
<circle cx="459.25" cy="558.8" r="3.55" fill="#0a0a0a" stroke="#0a0a0a" stroke-width="1.1"/>
<circle cx="480.89" cy="552" r="3.55" fill="#0a0a0a" stroke="#0a0a0a" stroke-width="1.1"/>
<circle cx="502.53" cy="549.4" r="3.55" fill="#0a0a0a" stroke="#0a0a0a" stroke-width="1.1"/>
<circle cx="178" cy="591.8" r="3.55" fill="#fff" stroke="#111" stroke-width="1.1"/>
<circle cx="199.65" cy="586.4" r="3.55" fill="#fff" stroke="#111" stroke-width="1.1"/>
<circle cx="221.33" cy="569.3" r="3.55" fill="#fff" stroke="#111" stroke-width="1.1"/>
<circle cx="243.04" cy="546.9" r="3.55" fill="#fff" stroke="#111" stroke-width="1.1"/>
<circle cx="264.71" cy="532.5" r="3.55" fill="#fff" stroke="#111" stroke-width="1.1"/>
<circle cx="286.39" cy="518" r="3.55" fill="#fff" stroke="#111" stroke-width="1.1"/>
<circle cx="329.69" cy="502.4" r="3.55" fill="#fff" stroke="#111" stroke-width="1.1"/>
<circle cx="372.98" cy="491.5" r="3.55" fill="#fff" stroke="#111" stroke-width="1.1"/>
<circle cx="416.29" cy="474.9" r="3.55" fill="#fff" stroke="#111" stroke-width="1.1"/>
<circle cx="459.56" cy="469" r="3.55" fill="#fff" stroke="#111" stroke-width="1.1"/>
<circle cx="481.18" cy="470.8" r="3.55" fill="#fff" stroke="#111" stroke-width="1.1"/>
<circle cx="502.81" cy="467.8" r="3.55" fill="#fff" stroke="#111" stroke-width="1.1"/>
<rect x="110.16" y="593.25" width="5.9" height="5.9" fill="#0a0a0a" stroke="#0a0a0a" stroke-width="1.1"/>
<rect x="131.78" y="596.45" width="5.9" height="5.9" fill="#0a0a0a" stroke="#0a0a0a" stroke-width="1.1"/>
<rect x="153.4" y="597.05" width="5.9" height="5.9" fill="#0a0a0a" stroke="#0a0a0a" stroke-width="1.1"/>
<rect x="175.02" y="598.55" width="5.9" height="5.9" fill="#0a0a0a" stroke="#0a0a0a" stroke-width="1.1"/>
<rect x="196.64" y="601.05" width="5.9" height="5.9" fill="#0a0a0a" stroke="#0a0a0a" stroke-width="1.1"/>
<rect x="218.25" y="604.05" width="5.9" height="5.9" fill="#0a0a0a" stroke="#0a0a0a" stroke-width="1.1"/>
<rect x="239.86" y="609.95" width="5.9" height="5.9" fill="#0a0a0a" stroke="#0a0a0a" stroke-width="1.1"/>
<rect x="261.46" y="616.05" width="5.9" height="5.9" fill="#0a0a0a" stroke="#0a0a0a" stroke-width="1.1"/>
<rect x="283.06" y="622.65" width="5.9" height="5.9" fill="#0a0a0a" stroke="#0a0a0a" stroke-width="1.1"/>
<rect x="326.26" y="637.95" width="5.9" height="5.9" fill="#0a0a0a" stroke="#0a0a0a" stroke-width="1.1"/>
<rect x="369.47" y="647.65" width="5.9" height="5.9" fill="#0a0a0a" stroke="#0a0a0a" stroke-width="1.1"/>
<rect x="412.71" y="652.95" width="5.9" height="5.9" fill="#0a0a0a" stroke="#0a0a0a" stroke-width="1.1"/>
<rect x="455.93" y="659.95" width="5.9" height="5.9" fill="#0a0a0a" stroke="#0a0a0a" stroke-width="1.1"/>
<rect x="477.55" y="661.65" width="5.9" height="5.9" fill="#0a0a0a" stroke="#0a0a0a" stroke-width="1.1"/>
<rect x="499.17" y="663.75" width="5.9" height="5.9" fill="#0a0a0a" stroke="#0a0a0a" stroke-width="1.1"/>
<rect x="110.17" y="591.85" width="5.9" height="5.9" fill="#fff" stroke="#111" stroke-width="1.1"/>
<rect x="131.78" y="595.25" width="5.9" height="5.9" fill="#fff" stroke="#111" stroke-width="1.1"/>
<rect x="153.4" y="598.25" width="5.9" height="5.9" fill="#fff" stroke="#111" stroke-width="1.1"/>
<rect x="175" y="604.15" width="5.9" height="5.9" fill="#fff" stroke="#111" stroke-width="1.1"/>
<rect x="196.6" y="611.05" width="5.9" height="5.9" fill="#fff" stroke="#111" stroke-width="1.1"/>
<rect x="218.19" y="622.95" width="5.9" height="5.9" fill="#fff" stroke="#111" stroke-width="1.1"/>
<rect x="239.76" y="636.35" width="5.9" height="5.9" fill="#fff" stroke="#111" stroke-width="1.1"/>
<rect x="261.35" y="647.95" width="5.9" height="5.9" fill="#fff" stroke="#111" stroke-width="1.1"/>
<rect x="282.94" y="656.65" width="5.9" height="5.9" fill="#fff" stroke="#111" stroke-width="1.1"/>
<rect x="326.14" y="670.35" width="5.9" height="5.9" fill="#fff" stroke="#111" stroke-width="1.1"/>
<rect x="369.36" y="680.45" width="5.9" height="5.9" fill="#fff" stroke="#111" stroke-width="1.1"/>
<rect x="412.59" y="685.65" width="5.9" height="5.9" fill="#fff" stroke="#111" stroke-width="1.1"/>
<rect x="455.83" y="689.85" width="5.9" height="5.9" fill="#fff" stroke="#111" stroke-width="1.1"/>
<rect x="477.44" y="691.95" width="5.9" height="5.9" fill="#fff" stroke="#111" stroke-width="1.1"/>
<rect x="499.06" y="693.65" width="5.9" height="5.9" fill="#fff" stroke="#111" stroke-width="1.1"/>
<line x1="199.6" y1="566.2" x2="199.6" y2="572" stroke="#111" stroke-width="1.25"/>
<line x1="197.09" y1="567.65" x2="202.11" y2="570.55" stroke="#111" stroke-width="1.25"/>
<line x1="197.09" y1="570.55" x2="202.11" y2="567.65" stroke="#111" stroke-width="1.25"/>
<line x1="221.3" y1="540.6" x2="221.3" y2="546.4" stroke="#111" stroke-width="1.25"/>
<line x1="218.79" y1="542.05" x2="223.81" y2="544.95" stroke="#111" stroke-width="1.25"/>
<line x1="218.79" y1="544.95" x2="223.81" y2="542.05" stroke="#111" stroke-width="1.25"/>
<line x1="242.5" y1="514" x2="242.5" y2="519.8" stroke="#111" stroke-width="1.25"/>
<line x1="239.99" y1="515.45" x2="245.01" y2="518.35" stroke="#111" stroke-width="1.25"/>
<line x1="239.99" y1="518.35" x2="245.01" y2="515.45" stroke="#111" stroke-width="1.25"/>
<line x1="263.7" y1="499.6" x2="263.7" y2="505.4" stroke="#111" stroke-width="1.25"/>
<line x1="261.19" y1="501.05" x2="266.21" y2="503.95" stroke="#111" stroke-width="1.25"/>
<line x1="261.19" y1="503.95" x2="266.21" y2="501.05" stroke="#111" stroke-width="1.25"/>
<line x1="283.59" y1="491.8" x2="286.59" y2="483.6" stroke="#111" stroke-width="1.4"/>
<line x1="329.4" y1="464.5" x2="329.4" y2="470.3" stroke="#111" stroke-width="1.25"/>
<line x1="326.89" y1="465.95" x2="331.91" y2="468.85" stroke="#111" stroke-width="1.25"/>
<line x1="326.89" y1="468.85" x2="331.91" y2="465.95" stroke="#111" stroke-width="1.25"/>
<line x1="370.21" y1="459.6" x2="373.21" y2="451.4" stroke="#111" stroke-width="1.4"/>
<line x1="413.52" y1="441.4" x2="416.52" y2="433.2" stroke="#111" stroke-width="1.4"/>
<line x1="456.79" y1="434.5" x2="459.79" y2="426.3" stroke="#111" stroke-width="1.4"/>
<line x1="478.42" y1="435.7" x2="481.42" y2="427.5" stroke="#111" stroke-width="1.4"/>
<line x1="500.05" y1="432.2" x2="503.05" y2="424" stroke="#111" stroke-width="1.4"/>
<line x1="199.9" y1="625" x2="199.9" y2="630.8" stroke="#111" stroke-width="1.25"/>
<line x1="197.39" y1="626.45" x2="202.42" y2="629.35" stroke="#111" stroke-width="1.25"/>
<line x1="197.39" y1="629.35" x2="202.42" y2="626.45" stroke="#111" stroke-width="1.25"/>
<line x1="221.49" y1="636.6" x2="221.49" y2="642.4" stroke="#111" stroke-width="1.25"/>
<line x1="218.98" y1="638.05" x2="224" y2="640.95" stroke="#111" stroke-width="1.25"/>
<line x1="218.98" y1="640.95" x2="224" y2="638.05" stroke="#111" stroke-width="1.25"/>
<line x1="243.07" y1="650.2" x2="243.07" y2="656" stroke="#111" stroke-width="1.25"/>
<line x1="240.55" y1="651.65" x2="245.58" y2="654.55" stroke="#111" stroke-width="1.25"/>
<line x1="240.55" y1="654.55" x2="245.58" y2="651.65" stroke="#111" stroke-width="1.25"/>
<line x1="264.64" y1="664.4" x2="264.64" y2="670.2" stroke="#111" stroke-width="1.25"/>
<line x1="262.13" y1="665.85" x2="267.15" y2="668.75" stroke="#111" stroke-width="1.25"/>
<line x1="262.13" y1="668.75" x2="267.15" y2="665.85" stroke="#111" stroke-width="1.25"/>
<line x1="286.24" y1="672.5" x2="286.24" y2="678.3" stroke="#111" stroke-width="1.25"/>
<line x1="283.73" y1="673.95" x2="288.75" y2="676.85" stroke="#111" stroke-width="1.25"/>
<line x1="283.73" y1="676.85" x2="288.75" y2="673.95" stroke="#111" stroke-width="1.25"/>
<line x1="326.14" y1="692.1" x2="329.14" y2="683.9" stroke="#111" stroke-width="1.4"/>
<line x1="372.66" y1="694.4" x2="372.66" y2="700.2" stroke="#111" stroke-width="1.25"/>
<line x1="370.15" y1="695.85" x2="375.17" y2="698.75" stroke="#111" stroke-width="1.25"/>
<line x1="370.15" y1="698.75" x2="375.17" y2="695.85" stroke="#111" stroke-width="1.25"/>
<line x1="415.89" y1="701.4" x2="415.89" y2="707.2" stroke="#111" stroke-width="1.25"/>
<line x1="413.37" y1="702.85" x2="418.4" y2="705.75" stroke="#111" stroke-width="1.25"/>
<line x1="413.37" y1="705.75" x2="418.4" y2="702.85" stroke="#111" stroke-width="1.25"/>
<line x1="459.13" y1="704.1" x2="459.13" y2="709.9" stroke="#111" stroke-width="1.25"/>
<line x1="456.62" y1="705.55" x2="461.64" y2="708.45" stroke="#111" stroke-width="1.25"/>
<line x1="456.62" y1="708.45" x2="461.64" y2="705.55" stroke="#111" stroke-width="1.25"/>
<line x1="480.74" y1="706.7" x2="480.74" y2="712.5" stroke="#111" stroke-width="1.25"/>
<line x1="478.23" y1="708.15" x2="483.25" y2="711.05" stroke="#111" stroke-width="1.25"/>
<line x1="478.23" y1="711.05" x2="483.25" y2="708.15" stroke="#111" stroke-width="1.25"/>
<line x1="502.37" y1="707.2" x2="502.37" y2="713" stroke="#111" stroke-width="1.25"/>
<line x1="499.85" y1="708.65" x2="504.88" y2="711.55" stroke="#111" stroke-width="1.25"/>
<line x1="499.85" y1="711.55" x2="504.88" y2="708.65" stroke="#111" stroke-width="1.25"/>
<text x="11.0" y="24.5" class="big" style="font-size:30.2px" textLength="19.6" lengthAdjust="spacingAndGlyphs">A</text>
<text x="5.6" y="415.6" class="big" style="font-size:29.1px;stroke-width:0.35px" textLength="19.9" lengthAdjust="spacingAndGlyphs">B</text>
<text x="95.2" y="34.8" class="ttl" textLength="191" lengthAdjust="spacingAndGlyphs">Intervention + Placebo</text>
<text x="86.5" y="420.6" class="ttl" textLength="190" lengthAdjust="spacingAndGlyphs">Intervention + Orlistat</text>
<text x="253.4" y="365.8" class="tm" textLength="69.5" lengthAdjust="spacingAndGlyphs">Time (min)</text>
<text x="257.1" y="769.3" class="tm" textLength="71.7" lengthAdjust="spacingAndGlyphs">Time (min)</text>
<text transform="translate(21.0,163.1) rotate(-90)" class="yl" text-anchor="middle">Rd and EGP</text>
<text transform="translate(39.9,163.1) rotate(-90)" class="yl" text-anchor="middle" textLength="129.9" lengthAdjust="spacingAndGlyphs">mg/min - kgFFM</text>
<text transform="translate(17.8,560.5) rotate(-90)" class="yl" text-anchor="middle">Rd and EGP</text>
<text transform="translate(37.0,561.2) rotate(-90)" class="yl" text-anchor="middle">mg/min- kgFFM</text>
</svg>
</body></html>
